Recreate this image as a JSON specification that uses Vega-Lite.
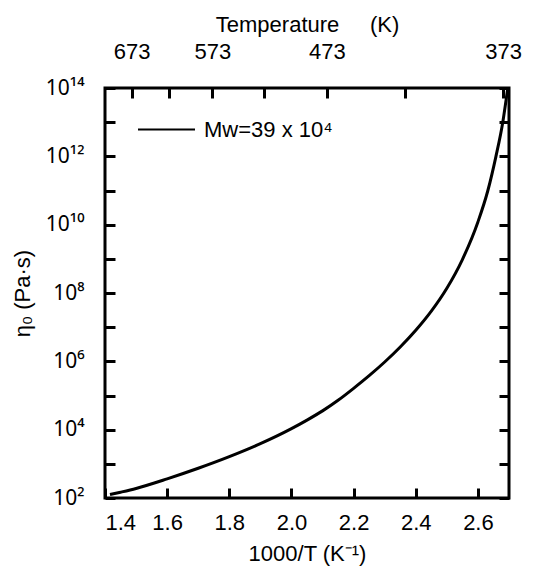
{
  "$schema": "https://vega.github.io/schema/vega-lite/v6.json",
  "width": 404,
  "height": 410,
  "autosize": {"type": "none"},
  "padding": {"left": 105, "top": 88, "right": 31, "bottom": 72},
  "background": "white",
  "config": {
    "view": {"stroke": "black", "strokeWidth": 3},
    "font": "Liberation Sans",
    "axis": {
      "domain": false,
      "tickColor": "black",
      "tickWidth": 3,
      "grid": false,
      "labelFont": "Liberation Sans",
      "labelFontSize": 22,
      "labelColor": "black",
      "titleFont": "Liberation Sans",
      "titleFontSize": 22,
      "titleFontWeight": "normal",
      "titleColor": "black"
    }
  },
  "data": {
    "values": [
      {"invT": 1.416, "eta": 125.9, "series": "Mw=39 x 10⁴"},
      {"invT": 1.45, "eta": 147.9, "series": "Mw=39 x 10⁴"},
      {"invT": 1.5, "eta": 190.5, "series": "Mw=39 x 10⁴"},
      {"invT": 1.6, "eta": 363.1, "series": "Mw=39 x 10⁴"},
      {"invT": 1.7, "eta": 741.3, "series": "Mw=39 x 10⁴"},
      {"invT": 1.8, "eta": 1622, "series": "Mw=39 x 10⁴"},
      {"invT": 1.9, "eta": 3890, "series": "Mw=39 x 10⁴"},
      {"invT": 2.0, "eta": 10715, "series": "Mw=39 x 10⁴"},
      {"invT": 2.05, "eta": 19055, "series": "Mw=39 x 10⁴"},
      {"invT": 2.1, "eta": 35481, "series": "Mw=39 x 10⁴"},
      {"invT": 2.15, "eta": 72444, "series": "Mw=39 x 10⁴"},
      {"invT": 2.2, "eta": 162181, "series": "Mw=39 x 10⁴"},
      {"invT": 2.25, "eta": 380189, "series": "Mw=39 x 10⁴"},
      {"invT": 2.3, "eta": 954993, "series": "Mw=39 x 10⁴"},
      {"invT": 2.35, "eta": 2630268, "series": "Mw=39 x 10⁴"},
      {"invT": 2.4, "eta": 8128305, "series": "Mw=39 x 10⁴"},
      {"invT": 2.45, "eta": 29512092, "series": "Mw=39 x 10⁴"},
      {"invT": 2.5, "eta": 138038426, "series": "Mw=39 x 10⁴"},
      {"invT": 2.55, "eta": 954992586, "series": "Mw=39 x 10⁴"},
      {"invT": 2.6, "eta": 12022644346, "series": "Mw=39 x 10⁴"},
      {"invT": 2.632, "eta": 100000000000, "series": "Mw=39 x 10⁴"},
      {"invT": 2.658, "eta": 1000000000000, "series": "Mw=39 x 10⁴"},
      {"invT": 2.68, "eta": 10000000000000, "series": "Mw=39 x 10⁴"},
      {"invT": 2.696, "eta": 100000000000000, "series": "Mw=39 x 10⁴"}
    ]
  },
  "layer": [
    {
      "mark": {"type": "line", "strokeWidth": 3, "clip": true, "interpolate": "monotone"},
      "encoding": {
        "x": {
          "field": "invT", "type": "quantitative",
          "scale": {"domain": [1.4, 2.7], "nice": false, "zero": false},
          "axis": {
            "orient": "bottom",
            "offset": -10,
            "values": [1.4, 1.6, 1.8, 2.0, 2.2, 2.4, 2.6],
            "format": ".1f",
            "tickSize": 10,
            "labelPadding": 14,
            "title": "1000/T (K⁻¹)",
            "titlePadding": 10
          }
        },
        "y": {
          "field": "eta", "type": "quantitative",
          "scale": {"type": "log", "domain": [100, 100000000000000], "nice": false},
          "axis": {
            "orient": "left",
            "offset": -10,
            "values": [100, 1000, 10000, 100000, 1000000, 10000000, 100000000, 1000000000, 10000000000, 100000000000, 1000000000000, 10000000000000, 100000000000000],
            "labelExpr": "round(log(datum.value)/LN10) % 2 == 0 ? '10' + (round(log(datum.value)/LN10) >= 10 ? '¹' : '') + ['⁰','¹','²','³','⁴','⁵','⁶','⁷','⁸','⁹'][round(log(datum.value)/LN10) % 10] : ''",
            "labelFont": "Noto Sans",
            "labelFontSize": 21,
            "tickSize": 10,
            "labelPadding": 21,
            "title": "η₀ (Pa·s)",
            "titlePadding": 11
          }
        },
        "color": {
          "field": "series", "type": "nominal",
          "scale": {"range": ["black"]},
          "legend": {
            "title": null,
            "orient": "none",
            "legendX": 32,
            "legendY": 12,
            "symbolType": "stroke",
            "symbolSize": 3249,
            "symbolStrokeWidth": 2,
            "symbolStrokeColor": "black",
            "labelFontSize": 22,
            "labelFont": "Liberation Sans",
            "labelColor": "black",
            "labelOffset": 8,
            "padding": 0
          }
        }
      }
    },
    {
      "mark": {"type": "line", "strokeWidth": 3, "strokeOpacity": 0},
      "encoding": {
        "x": {
          "field": "invT", "type": "quantitative",
          "scale": {"domain": [1.4, 2.7], "nice": false, "zero": false},
          "axis": {
            "orient": "top",
            "offset": -10,
            "values": [1.485884, 1.605136, 1.745201, 1.912046, 2.114165, 2.364066, 2.680965],
            "labelExpr": "indexof([673, 573, 473, 373], round(1000/datum.value)) >= 0 ? format(round(1000/datum.value), 'd') : ''",
            "tickSize": 10,
            "labelPadding": 25,
            "title": "Temperature\u00a0\u00a0\u00a0\u00a0\u00a0(K)",
            "titlePadding": 4
          }
        },
        "y": {
          "field": "eta", "type": "quantitative",
          "scale": {"type": "log", "domain": [100, 100000000000000], "nice": false},
          "axis": {
            "orient": "right",
            "offset": -10,
            "values": [100, 1000, 10000, 100000, 1000000, 10000000, 100000000, 1000000000, 10000000000, 100000000000, 1000000000000, 10000000000000, 100000000000000],
            "labels": false,
            "tickSize": 10,
            "title": null
          }
        }
      }
    }
  ],
  "resolve": {"scale": {"x": "independent", "y": "independent"}}
}
